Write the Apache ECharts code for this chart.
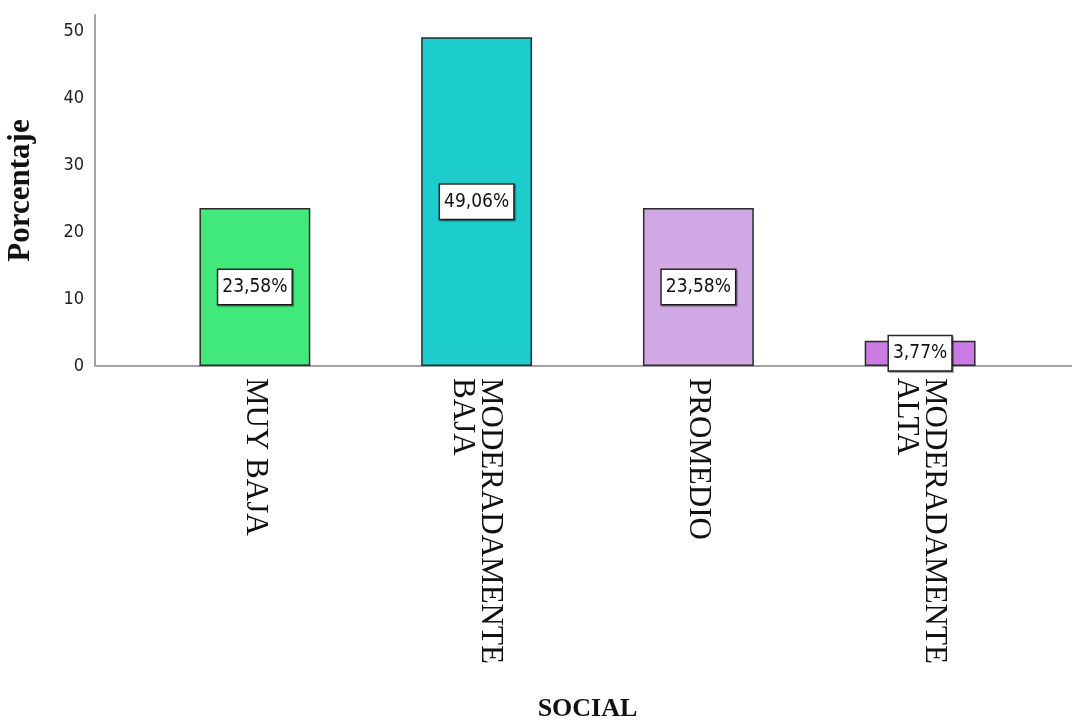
<!DOCTYPE html>
<html>
<head>
<meta charset="utf-8">
<script src="https://cdn.jsdelivr.net/npm/echarts@6/dist/echarts.min.js"></script>
<style>html,body{margin:0;padding:0;background:#fff;}#c{width:1072px;height:724px;}</style>
</head>
<body>
<div id="c"></div>
<script>
const categories = ['MUY BAJA', 'MODERADAMENTE\nBAJA', 'PROMEDIO', 'MODERADAMENTE\nALTA'];
const values = [23.58, 49.06, 23.58, 3.77];
const barColors = ['#41e87a', '#1dcccc', '#d0a8e3', '#cb7ae4'];
const yTicks = [0, 10, 20, 30, 40, 50];

const G = {top: 15, bottom: 358, left: 144, right: 41, axisX: 95};
const W = 1072, H = 724;
const baseY = H - G.bottom;
const NUM_FONT = '"DejaVu Sans Condensed", "DejaVu Sans", sans-serif';

const chart = echarts.init(document.getElementById('c'), null, {renderer: 'canvas'});
chart.setOption({
  backgroundColor: '#fff',
  animation: false,
  grid: {top: G.top, bottom: G.bottom, left: G.left, right: G.right, outerBoundsMode: 'none', containLabel: false},
  xAxis: {
    type: 'category',
    data: categories,
    name: 'SOCIAL',
    nameLocation: 'middle',
    nameGap: 330,
    nameTextStyle: {fontFamily: 'Liberation Serif', fontWeight: 'bold', fontSize: 26, color: '#111'},
    axisLine: {show: true, lineStyle: {color: '#a3a3a3', width: 2}},
    axisTick: {show: false},
    axisLabel: {
      rotate: -90, margin: 12, interval: 0,
      fontFamily: 'Liberation Serif', fontSize: 31, lineHeight: 28, color: '#111'
    }
  },
  yAxis: {
    type: 'value',
    min: 0, max: 52.4, interval: 10,
    offset: G.left - G.axisX,
    name: 'Porcentaje',
    nameLocation: 'middle',
    nameGap: 59,
    nameTextStyle: {fontFamily: 'Liberation Serif', fontWeight: 'bold', fontSize: 31, color: '#111'},
    axisLine: {show: true, lineStyle: {color: '#a3a3a3', width: 2}},
    axisTick: {show: false},
    splitLine: {show: false},
    axisLabel: {
      showMaxLabel: false, margin: 11,
      fontFamily: NUM_FONT, fontSize: 18, color: '#222',
      formatter: v => yTicks.includes(v) ? String(v) : ''
    }
  },
  series: [{
    type: 'bar',
    barWidth: '50%',
    data: values.map((v, i) => ({value: v, itemStyle: {color: barColors[i]}})),
    itemStyle: {borderColor: '#2a2a2a', borderWidth: 1.5},
    label: {
      show: true, position: 'inside',
      formatter: p => p.value.toFixed(2).replace('.', ',') + '%',
      fontFamily: NUM_FONT, fontSize: 19, color: '#111',
      backgroundColor: '#fff', borderColor: '#2a2a2a', borderWidth: 1.5,
      padding: [8, 4, 7, 4],
      shadowColor: 'rgba(0,0,0,0.45)', shadowOffsetX: 1, shadowOffsetY: 1, shadowBlur: 1
    }
  }],
  graphic: [
    {type: 'line', z: -1, shape: {x1: G.axisX, y1: baseY, x2: G.left, y2: baseY}, style: {stroke: '#a3a3a3', lineWidth: 2}},
    {type: 'line', z: -1, shape: {x1: W - G.right, y1: baseY, x2: W, y2: baseY}, style: {stroke: '#a3a3a3', lineWidth: 2}}
  ]
});
</script>
</body>
</html>
